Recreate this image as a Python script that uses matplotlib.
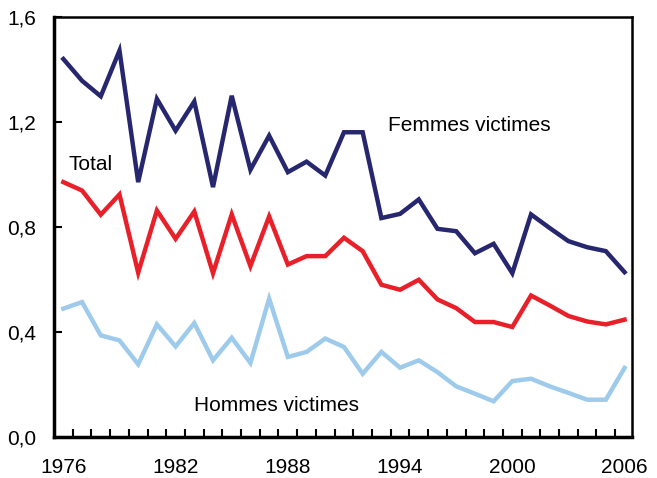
import matplotlib
matplotlib.use('Agg')
import matplotlib.pyplot as plt
from matplotlib.ticker import FixedLocator, FuncFormatter

plt.rcParams['font.family'] = ['Liberation Sans', 'DejaVu Sans']

years = list(range(1976, 2007))

femmes = [1.44, 1.357, 1.298, 1.472, 0.971, 1.288, 1.167, 1.278, 0.952, 1.30,
          1.018, 1.148, 1.009, 1.049, 0.996, 1.161, 1.161, 0.834, 0.850, 0.905,
          0.793, 0.784, 0.700, 0.736, 0.624, 0.848, 0.796, 0.746, 0.723, 0.708,
          0.628]
total = [0.971, 0.939, 0.847, 0.924, 0.626, 0.863, 0.755, 0.859, 0.624, 0.848,
         0.651, 0.840, 0.657, 0.689, 0.689, 0.759, 0.708, 0.580, 0.561, 0.599,
         0.524, 0.491, 0.438, 0.438, 0.419, 0.539, 0.501, 0.461, 0.440, 0.429,
         0.447]
hommes = [0.489, 0.514, 0.387, 0.368, 0.277, 0.429, 0.345, 0.434, 0.292, 0.378,
          0.282, 0.527, 0.305, 0.324, 0.375, 0.343, 0.241, 0.324, 0.264, 0.292,
          0.247, 0.193, 0.165, 0.136, 0.213, 0.222, 0.193, 0.168, 0.142, 0.142,
          0.263]

label_years = [1976, 1982, 1988, 1994, 2000, 2006]
y_ticks = [0.0, 0.4, 0.8, 1.2, 1.6]

fig = plt.figure(figsize=(6.57, 4.78), dpi=100)
ax = fig.add_axes([0.0822, 0.0858, 0.8798, 0.8786])

ax.plot(years, hommes, color='#9ecbec', linewidth=3.2, solid_joinstyle='miter')
ax.plot(years, total, color='#e8202a', linewidth=3.2, solid_joinstyle='miter')
ax.plot(years, femmes, color='#27276f', linewidth=3.2, solid_joinstyle='miter')

ax.text(1997.7, 1.187, 'Femmes victimes', fontsize=15, ha='center', va='center')
ax.text(1976.3, 1.04, 'Total', fontsize=15, ha='left', va='center')
ax.text(1987.4, 0.12, 'Hommes victimes', fontsize=15, ha='center', va='center')

ax.set_xlim(1975.5, 2006.4)
ax.set_ylim(0, 1.6)

ax.xaxis.set_major_locator(FixedLocator(label_years))
ax.xaxis.set_minor_locator(FixedLocator([y + 0.5 for y in years[:-1]]))
ax.tick_params(axis='x', which='major', length=0, pad=15, labelsize=15)
ax.tick_params(axis='x', which='minor', direction='in', length=6, width=1.5)

ax.set_yticks(y_ticks)
ax.yaxis.set_major_formatter(FuncFormatter(lambda v, p: f'{v:.1f}'.replace('.', ',')))
ax.tick_params(axis='y', direction='in', length=6, width=1.5, pad=13, labelsize=15)

for side in ['left', 'bottom']:
    ax.spines[side].set_linewidth(2.5)
for side in ['top', 'right']:
    ax.spines[side].set_linewidth(1.8)

fig.savefig('out.png', dpi=100)
